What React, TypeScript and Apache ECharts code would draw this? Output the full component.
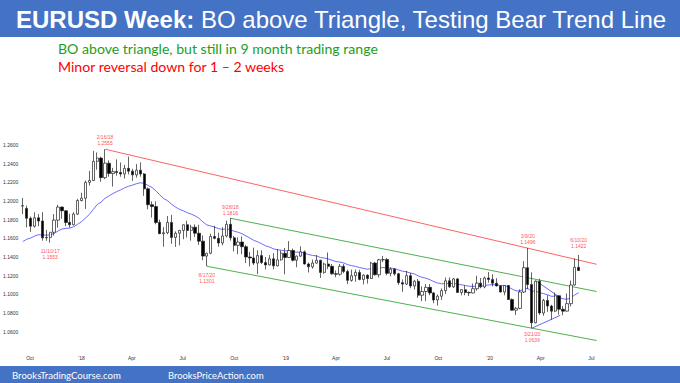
import React, { useEffect, useRef } from 'react';
import * as echarts from 'echarts';

const DAY = 86400000;
const firstWeek = Date.UTC(2017, 8, 18);

// Weekly OHLC, EURUSD, week of 2017-09-18 .. week of 2020-06-08
const opens = [
  1.1945, 1.1920, 1.1815, 1.1730, 1.1820, 1.1785, 1.1605, 1.1610, 1.1665, 1.1795,
  1.1935, 1.1895, 1.1770, 1.1745, 1.1860, 1.2005, 1.2030, 1.2200, 1.2220, 1.2425,
  1.2460, 1.2250, 1.2405, 1.2295, 1.2315, 1.2305, 1.2290, 1.2350, 1.2320, 1.2280,
  1.2330, 1.2290, 1.2130, 1.1960, 1.1940, 1.1770, 1.1650, 1.1660, 1.1770, 1.1610,
  1.1655, 1.1685, 1.1745, 1.1685, 1.1720, 1.1655, 1.1570, 1.1410, 1.1440, 1.1620,
  1.1600, 1.1550, 1.1625, 1.1750, 1.1605, 1.1525, 1.1560, 1.1510, 1.1400, 1.1390,
  1.1335, 1.1415, 1.1340, 1.1315, 1.1380, 1.1305, 1.1370, 1.1440, 1.1395, 1.1470,
  1.1365, 1.1410, 1.1455, 1.1325, 1.1295, 1.1335, 1.1365, 1.1235, 1.1325, 1.1300,
  1.1220, 1.1215, 1.1300, 1.1245, 1.1150, 1.1200, 1.1235, 1.1160, 1.1205, 1.1170,
  1.1335, 1.1210, 1.1370, 1.1372, 1.1225, 1.1270, 1.1220, 1.1125, 1.1110, 1.1200,
  1.1090, 1.1140, 1.0990, 1.1030, 1.1075, 1.1015, 1.0940, 1.0980, 1.1040, 1.1145,
  1.1080, 1.1165, 1.1020, 1.1050, 1.1020, 1.1015, 1.1060, 1.1120, 1.1080, 1.1175,
  1.1160, 1.1120, 1.1090, 1.1025, 1.1095, 1.0945, 1.0830, 1.0850, 1.1025, 1.1285,
  1.1105, 1.0695, 1.1140, 1.0800, 1.0935, 1.0875, 1.0820, 1.0985, 1.0840, 1.0820,
  1.0900, 1.1100, 1.1290,
];
const highs = [
  1.2033, 1.1950, 1.1833, 1.1880, 1.1860, 1.1880, 1.1690, 1.1665, 1.1860, 1.1960,
  1.1940, 1.1900, 1.1863, 1.1880, 1.2023, 1.2089, 1.2219, 1.2323, 1.2537, 1.2520,
  1.2475, 1.2555, 1.2435, 1.2355, 1.2446, 1.2413, 1.2388, 1.2476, 1.2345, 1.2396,
  1.2414, 1.2300, 1.2145, 1.1996, 1.1997, 1.1800, 1.1720, 1.1840, 1.1852, 1.1675,
  1.1690, 1.1750, 1.1790, 1.1745, 1.1750, 1.1745, 1.1630, 1.1445, 1.1650, 1.1734,
  1.1660, 1.1720, 1.1790, 1.1815, 1.1625, 1.1610, 1.1620, 1.1530, 1.1455, 1.1500,
  1.1472, 1.1472, 1.1400, 1.1420, 1.1442, 1.1486, 1.1470, 1.1497, 1.1570, 1.1490,
  1.1415, 1.1515, 1.1470, 1.1340, 1.1372, 1.1420, 1.1370, 1.1340, 1.1448, 1.1325,
  1.1255, 1.1325, 1.1324, 1.1265, 1.1265, 1.1265, 1.1264, 1.1215, 1.1215, 1.1348,
  1.1348, 1.1380, 1.1412, 1.1390, 1.1286, 1.1282, 1.1230, 1.1160, 1.1250, 1.1230,
  1.1155, 1.1165, 1.1085, 1.1110, 1.1110, 1.1025, 1.0999, 1.1063, 1.1180, 1.1180,
  1.1175, 1.1175, 1.1055, 1.1097, 1.1030, 1.1116, 1.1200, 1.1175, 1.1190, 1.1239,
  1.1215, 1.1173, 1.1100, 1.1096, 1.1100, 1.0955, 1.0865, 1.1053, 1.1355, 1.1496,
  1.1236, 1.1147, 1.1168, 1.0951, 1.0990, 1.0888, 1.1019, 1.0990, 1.0875, 1.1009,
  1.1147, 1.1384, 1.1422,
];
const lows = [
  1.1861, 1.1717, 1.1669, 1.1715, 1.1730, 1.1575, 1.1574, 1.1553, 1.1630, 1.1714,
  1.1810, 1.1730, 1.1715, 1.1740, 1.1850, 1.1995, 1.1915, 1.2165, 1.2215, 1.2335,
  1.2206, 1.2234, 1.2260, 1.2154, 1.2272, 1.2260, 1.2240, 1.2285, 1.2215, 1.2250,
  1.2260, 1.2055, 1.1911, 1.1823, 1.1750, 1.1645, 1.1510, 1.1645, 1.1542, 1.1508,
  1.1525, 1.1590, 1.1610, 1.1575, 1.1615, 1.1530, 1.1365, 1.1301, 1.1430, 1.1590,
  1.1510, 1.1525, 1.1610, 1.1575, 1.1460, 1.1430, 1.1430, 1.1335, 1.1300, 1.1315,
  1.1216, 1.1325, 1.1267, 1.1310, 1.1269, 1.1300, 1.1360, 1.1215, 1.1390, 1.1352,
  1.1290, 1.1400, 1.1320, 1.1234, 1.1275, 1.1330, 1.1176, 1.1220, 1.1270, 1.1210,
  1.1184, 1.1200, 1.1226, 1.1110, 1.1135, 1.1135, 1.1150, 1.1107, 1.1115, 1.1165,
  1.1200, 1.1180, 1.1345, 1.1205, 1.1193, 1.1200, 1.1101, 1.1027, 1.1100, 1.1066,
  1.1052, 1.0963, 1.0926, 1.0927, 1.0990, 1.0905, 1.0879, 1.0940, 1.1005, 1.1070,
  1.1070, 1.1015, 1.0990, 1.0990, 1.0981, 1.1010, 1.1040, 1.1065, 1.1065, 1.1125,
  1.1085, 1.1085, 1.1020, 1.0990, 1.0941, 1.0827, 1.0778, 1.0840, 1.1015, 1.1055,
  1.0636, 1.0690, 1.0780, 1.0770, 1.0812, 1.0727, 1.0811, 1.0782, 1.0775, 1.0815,
  1.0870, 1.1095, 1.1250,
];
const closes = [
  1.1950, 1.1815, 1.1730, 1.1820, 1.1785, 1.1605, 1.1610, 1.1665, 1.1795, 1.1935,
  1.1895, 1.1770, 1.1745, 1.1860, 1.2005, 1.2030, 1.2200, 1.2220, 1.2425, 1.2460,
  1.2250, 1.2405, 1.2295, 1.2315, 1.2305, 1.2290, 1.2350, 1.2320, 1.2280, 1.2330,
  1.2290, 1.2130, 1.1960, 1.1940, 1.1770, 1.1650, 1.1660, 1.1770, 1.1610, 1.1655,
  1.1685, 1.1745, 1.1685, 1.1720, 1.1655, 1.1570, 1.1410, 1.1440, 1.1620, 1.1600,
  1.1550, 1.1625, 1.1750, 1.1605, 1.1525, 1.1560, 1.1510, 1.1400, 1.1390, 1.1335,
  1.1415, 1.1340, 1.1315, 1.1380, 1.1305, 1.1370, 1.1440, 1.1395, 1.1470, 1.1365,
  1.1410, 1.1455, 1.1325, 1.1295, 1.1335, 1.1365, 1.1235, 1.1325, 1.1300, 1.1220,
  1.1215, 1.1300, 1.1245, 1.1150, 1.1200, 1.1235, 1.1160, 1.1205, 1.1170, 1.1335,
  1.1210, 1.1370, 1.1372, 1.1225, 1.1270, 1.1220, 1.1125, 1.1110, 1.1200, 1.1090,
  1.1140, 1.0990, 1.1030, 1.1075, 1.1015, 1.0940, 1.0980, 1.1040, 1.1145, 1.1080,
  1.1165, 1.1020, 1.1050, 1.1020, 1.1015, 1.1060, 1.1120, 1.1080, 1.1175, 1.1160,
  1.1120, 1.1090, 1.1025, 1.1095, 1.0945, 1.0830, 1.0850, 1.1025, 1.1285, 1.1105,
  1.0695, 1.1140, 1.0800, 1.0935, 1.0875, 1.0820, 1.0985, 1.0840, 1.0820, 1.0900,
  1.1100, 1.1290, 1.1255,
];
// 20-week EMA as drawn on the chart
const ema20 = [
  1.1566, 1.1590, 1.1603, 1.1624, 1.1639, 1.1636, 1.1634, 1.1637, 1.1652, 1.1679,
  1.1700, 1.1706, 1.1710, 1.1724, 1.1751, 1.1778, 1.1818, 1.1856, 1.1910, 1.1962,
  1.1989, 1.2029, 1.2054, 1.2079, 1.2101, 1.2119, 1.2141, 1.2158, 1.2170, 1.2185,
  1.2195, 1.2189, 1.2167, 1.2145, 1.2109, 1.2065, 1.2026, 1.2002, 1.1965, 1.1935,
  1.1911, 1.1895, 1.1875, 1.1860, 1.1841, 1.1815, 1.1776, 1.1744, 1.1732, 1.1720,
  1.1704, 1.1696, 1.1701, 1.1692, 1.1676, 1.1665, 1.1650, 1.1626, 1.1604, 1.1578,
  1.1563, 1.1542, 1.1520, 1.1507, 1.1488, 1.1477, 1.1473, 1.1466, 1.1466, 1.1456,
  1.1452, 1.1452, 1.1440, 1.1426, 1.1417, 1.1412, 1.1395, 1.1389, 1.1380, 1.1365,
  1.1351, 1.1346, 1.1336, 1.1318, 1.1307, 1.1300, 1.1287, 1.1279, 1.1269, 1.1275,
  1.1269, 1.1279, 1.1288, 1.1282, 1.1281, 1.1275, 1.1261, 1.1247, 1.1242, 1.1228,
  1.1220, 1.1198, 1.1182, 1.1172, 1.1157, 1.1136, 1.1121, 1.1113, 1.1116, 1.1113,
  1.1118, 1.1109, 1.1103, 1.1095, 1.1087, 1.1085, 1.1088, 1.1087, 1.1095, 1.1101,
  1.1103, 1.1102, 1.1094, 1.1094, 1.1080, 1.1056, 1.1037, 1.1036, 1.1059, 1.1064,
  1.1029, 1.1039, 1.1016, 1.1008, 1.0996, 1.0979, 1.0980, 1.0966, 1.0952, 1.0947,
  1.0962, 1.0993, 1.1018,
];

const weeks = opens.map((_, i) => firstWeek + i * 7 * DAY);

const xTickDates = [
  '2017-10-01', '2018-01-01', '2018-04-01', '2018-07-01', '2018-10-01', '2019-01-01',
  '2019-04-01', '2019-07-01', '2019-10-01', '2020-01-01', '2020-04-01', '2020-07-01',
];
const xTickLabels = ['Oct', "'18", 'Apr', 'Jul', 'Oct', "'19", 'Apr', 'Jul', 'Oct', "'20", 'Apr', 'Jul'];
const yTicks = [1.06, 1.08, 1.1, 1.12, 1.14, 1.16, 1.18, 1.2, 1.22, 1.24, 1.26];

const bearTrendLine = [['2018-02-12', 1.2555], ['2020-07-10', 1.1322]];
const channelUpper = [['2018-09-24', 1.1815], ['2020-07-10', 1.103]];
const channelLower = [['2018-08-13', 1.1301], ['2020-07-10', 1.0505]];
const triangleUpper = [['2020-03-23', 1.1147], ['2020-05-06', 1.0964]];
const triangleLower = [['2020-03-16', 1.0636], ['2020-05-06', 1.0775]];

const annotations = [
  { date: '2017-11-06', price: 1.1553, text: '11/10/17\n1.1553', pos: 'bottom', dist: 5 },
  { date: '2018-02-12', price: 1.2555, text: '2/16/18\n1.2555', pos: 'top', dist: 3 },
  { date: '2018-08-13', price: 1.1301, text: '8/17/20\n1.1301', pos: 'bottom', dist: 6 },
  { date: '2018-09-24', price: 1.1815, text: '9/28/18\n1.1816', pos: 'top', dist: 2 },
  { date: '2020-03-09', price: 1.1496, text: '3/9/20\n1.1496', pos: 'top', dist: 3 },
  { date: '2020-03-17', price: 1.0636, text: '3/21/20\n1.0636', pos: 'bottom', dist: 3 },
  { date: '2020-06-08', price: 1.1422, text: '6/10/20\n1.1422', pos: 'top', dist: 6 },
];

const ts = (d: string) => new Date(d).getTime();
const toLine = (pts: (string | number)[][]) => pts.map((p) => [ts(p[0] as string), p[1]]);

const FONT = '"Liberation Sans", Arial, sans-serif';

export default function App() {
  const ref = useRef<HTMLDivElement>(null);
  useEffect(() => {
    if (!ref.current) return;
    const chart = echarts.init(ref.current, null, { renderer: 'svg' });
    const xTicks = xTickDates.map(ts);
    const lineSeries = (data: (string | number)[][], color: string) => ({
      type: 'line',
      data: toLine(data),
      symbol: 'none',
      silent: true,
      z: 2,
      lineStyle: { color, width: 0.9 },
    });
    chart.setOption({
      animation: false,
      backgroundColor: '#ffffff',
      grid: { left: 15, right: 70, top: 126.33, bottom: 32.67, outerBoundsMode: 'none' },
      xAxis: {
        type: 'value',
        min: Date.UTC(2017, 8, 4),
        max: Date.UTC(2020, 7, 3),
        splitLine: { show: false },
        axisLine: { show: false },
        axisTick: { show: false },
        axisLabel: {
          customValues: xTicks,
          fontSize: 5,
          color: '#333',
          fontFamily: FONT,
          margin: 5,
          formatter: (v: number) => {
            let best = 0;
            xTicks.forEach((t, i) => {
              if (Math.abs(t - v) < Math.abs(xTicks[best] - v)) best = i;
            });
            return xTickLabels[best];
          },
        },
      },
      yAxis: {
        type: 'value',
        min: 1.04,
        max: 1.28,
        splitLine: { show: false },
        axisLine: { show: false },
        axisTick: { show: false },
        axisLabel: {
          customValues: yTicks,
          fontSize: 5,
          color: '#333',
          fontFamily: FONT,
          align: 'left',
          margin: 12,
          formatter: (v: number) => v.toFixed(4),
        },
      },
      series: [
        lineSeries(bearTrendLine, '#ff5050'),
        lineSeries(channelUpper, '#3aa83a'),
        lineSeries(channelLower, '#3aa83a'),
        lineSeries(triangleUpper, '#5555ff'),
        lineSeries(triangleLower, '#5555ff'),
        {
          type: 'line',
          data: weeks.map((t, i) => [t, ema20[i]]),
          symbol: 'none',
          silent: true,
          z: 2,
          lineStyle: { color: '#5a5aff', width: 0.9 },
        },
        {
          type: 'candlestick',
          z: 3,
          barWidth: 2.8,
          silent: true,
          data: weeks.map((t, i) => [t, opens[i], closes[i], lows[i], highs[i]]),
          itemStyle: {
            color: '#ffffff',
            color0: '#000000',
            borderColor: '#222222',
            borderColor0: '#222222',
            borderWidth: 0.7,
          },
        },
        {
          type: 'scatter',
          symbolSize: 0,
          silent: true,
          z: 4,
          data: annotations.map((a) => ({
            value: [ts(a.date), a.price],
            label: {
              show: true,
              position: a.pos,
              distance: a.dist,
              formatter: a.text,
              color: '#ff2020',
              fontSize: 5,
              lineHeight: 6,
              fontFamily: FONT,
            },
          })),
        },
      ],
      graphic: [
        { type: 'rect', shape: { x: 0, y: 0, width: 680, height: 37 }, style: { fill: '#4472c4' } },
        {
          type: 'text',
          x: 16,
          y: 19,
          style: {
            text: '{b|EURUSD Week:} BO above Triangle, Testing Bear Trend Line',
            fill: '#ffffff',
            fontSize: 24,
            fontFamily: FONT,
            verticalAlign: 'middle',
            rich: { b: { fontWeight: 'bold', fontSize: 24, fontFamily: FONT, fill: '#ffffff' } },
          },
        },
        {
          type: 'text',
          x: 58,
          y: 48.5,
          style: {
            text: 'BO above triangle, but still in 9 month trading range',
            fill: '#1aa01a',
            fontSize: 14.1,
            fontFamily: 'Lato, sans-serif',
            verticalAlign: 'middle',
          },
        },
        {
          type: 'text',
          x: 58,
          y: 66.5,
          style: {
            text: 'Minor reversal down for 1 \u2013 2 weeks',
            fill: '#ff0000',
            fontSize: 14.1,
            fontFamily: 'Lato, sans-serif',
            verticalAlign: 'middle',
          },
        },
        { type: 'rect', shape: { x: 0, y: 366, width: 680, height: 17 }, style: { fill: '#4472c4' } },
        {
          type: 'text',
          x: 12,
          y: 375,
          style: {
            text: 'BrooksTradingCourse.com',
            fill: '#ffffff',
            fontSize: 9.6,
            fontFamily: 'Lato, sans-serif',
            verticalAlign: 'middle',
          },
        },
        {
          type: 'text',
          x: 168,
          y: 375,
          style: {
            text: 'BrooksPriceAction.com',
            fill: '#ffffff',
            fontSize: 9.4,
            fontFamily: 'Lato, sans-serif',
            verticalAlign: 'middle',
          },
        },
      ],
    });
    return () => chart.dispose();
  }, []);
  return (
    <div
      ref={ref}
      style={{ position: 'absolute', left: 0, top: 0, width: 680, height: 383, background: '#fff' }}
    />
  );
}
